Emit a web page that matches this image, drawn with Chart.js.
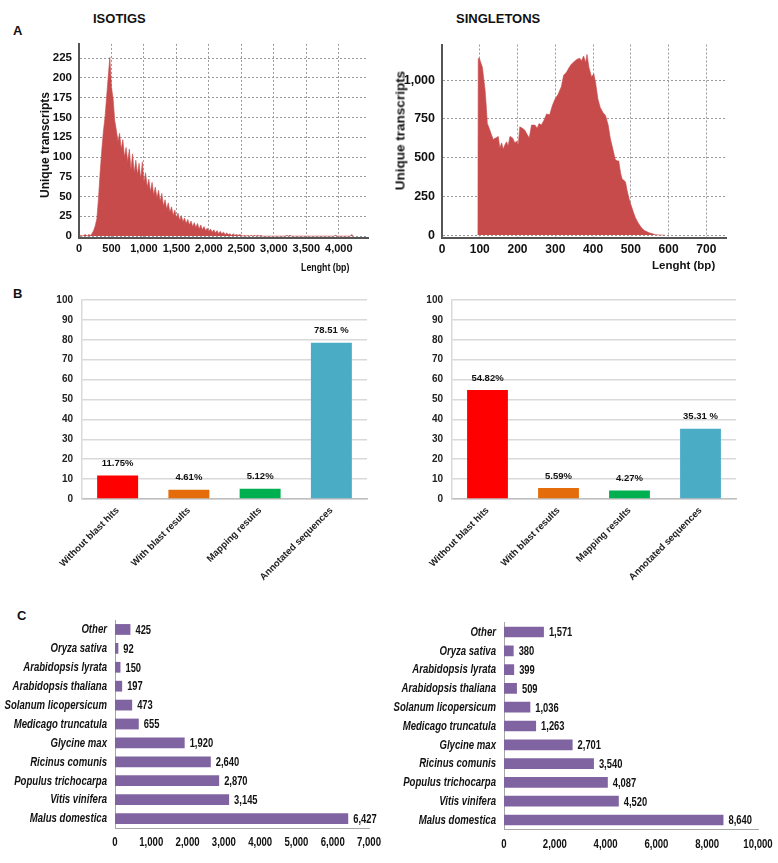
<!DOCTYPE html>
<html>
<head>
<meta charset="utf-8">
<script src="https://cdn.jsdelivr.net/npm/chart.js@4.4.0/dist/chart.umd.min.js"></script>
<style>
  body { margin: 0; background: #fff; }
  #wrap { position: relative; width: 778px; height: 863px; overflow: hidden; font-family: Arial, "Liberation Sans", sans-serif; }
  .box { position: absolute; }
  .txt { position: absolute; font-weight: bold; color: #111; white-space: nowrap; line-height: 1; }
  .narrow { transform: scaleX(0.8); transform-origin: left top; }
  .ytitle { position: absolute; text-align: center; font-weight: bold; color: #111; transform: rotate(-90deg); }
</style>
</head>
<body>
<div id="wrap">
  <div class="txt" style="left:13px;top:24px;font-size:13px">A</div>
  <div class="txt" style="left:93px;top:12px;font-size:13px">ISOTIGS</div>
  <div class="txt" style="left:456px;top:12px;font-size:13px">SINGLETONS</div>
  <div class="txt" style="left:13px;top:287px;font-size:13px">B</div>
  <div class="txt" style="left:17px;top:609px;font-size:13px">C</div>

  <div class="box" style="left:0;top:30px;width:372px;height:240px"><canvas id="isoHist"></canvas></div>
  <div class="box" style="left:360px;top:30px;width:372px;height:240px"><canvas id="sglHist"></canvas></div>
  <div class="ytitle" style="left:-25px;top:139px;width:140px;font-size:12px;line-height:12px">Unique transcripts</div>
  <div class="ytitle" style="left:320px;top:124px;width:160px;font-size:13.5px;line-height:13px">Unique transcripts</div>
  <div class="txt narrow" style="left:301px;top:262px;font-size:11px">Lenght (bp)</div>
  <div class="txt" style="left:652px;top:260px;font-size:11.5px">Lenght (bp)</div>

  <div class="box" style="left:0;top:285px;width:372px;height:300px"><canvas id="isoPct"></canvas></div>
  <div class="box" style="left:372px;top:285px;width:372px;height:300px"><canvas id="sglPct"></canvas></div>

  <div class="box" style="left:0;top:600px;width:389px;height:263px"><canvas id="isoSpecies"></canvas></div>
  <div class="box" style="left:389px;top:600px;width:389px;height:263px"><canvas id="sglSpecies"></canvas></div>
</div>

<script>
// --- A : distribution des longueurs (isotigs) ---
const isoLen = [0, 25, 50, 75, 100, 125, 150, 175, 200, 225, 250, 275, 300, 325, 350, 375, 400, 425, 450, 475,
  500, 525, 550, 575, 600, 625, 650, 675, 700, 725, 750, 775, 800, 825, 850, 875, 900, 925, 950, 975,
  1000, 1025, 1050, 1075, 1100, 1125, 1150, 1175, 1200, 1225, 1250, 1275, 1300, 1325, 1350, 1375, 1400, 1425, 1450, 1475,
  1500, 1525, 1550, 1575, 1600, 1625, 1650, 1675, 1700, 1725, 1750, 1775, 1800, 1825, 1850, 1875, 1900, 1925, 1950, 1975,
  2000, 2025, 2050, 2075, 2100, 2125, 2150, 2175, 2200, 2225, 2250, 2275, 2300, 2325, 2350, 2375, 2400, 2425, 2450, 2475,
  2500, 2525, 2550, 2575, 2600, 2625, 2650, 2675, 2700, 2725, 2750, 2775, 2800, 2825,
  3175, 3200, 3225, 3250, 3275, 3925, 3950, 3975, 4175, 4200, 4225];
const isoCount = [0, 1, 0, 1, 2, 0, 2, 1, 3, 7, 13, 22, 48, 80, 108, 132, 150, 176, 202, 226,
  188, 174, 146, 134, 120, 130, 110, 122, 100, 112, 94, 110, 84, 104, 80, 96, 78, 92, 72, 94,
  68, 80, 62, 72, 56, 68, 52, 62, 48, 58, 44, 54, 38, 46, 34, 42, 30, 37, 26, 33,
  23, 29, 20, 26, 18, 23, 16, 21, 14, 19, 12, 17, 11, 16, 9, 14, 8, 12, 7, 10,
  6, 9, 5, 8, 4, 7, 3, 6, 3, 5, 2, 4, 2, 3, 1, 3, 1, 2, 1, 2,
  1, 0, 1, 0, 1, 0, 1, 0, 1, 0, 1, 0, 1, 0,
  0, 1, 0, 1, 0, 0, 1, 0, 0, 2, 0];
const isoXTicks = [0, 500, 1000, 1500, 2000, 2500, 3000, 3500, 4000];
const isoYTicks = [0, 25, 50, 75, 100, 125, 150, 175, 200, 225];

// --- A : distribution des longueurs (singletons) ---
const sglLen = [95, 96, 99, 103, 107, 110, 114, 117, 120, 125, 131, 136, 140, 143, 149, 153, 158, 162, 167, 171,
  175, 180, 187, 193, 197, 202, 206, 213, 219, 226, 231, 237, 246, 252, 257, 263, 270, 277, 285, 292,
  299, 307, 316, 322, 330, 337, 343, 352, 358, 365, 369, 375, 380, 384, 389, 396, 402, 407, 413, 419,
  426, 433, 440, 446, 452, 459, 464, 468, 473, 477, 481, 486, 490, 495, 499, 503, 508, 512, 517, 521,
  526, 530, 536, 543, 550, 556, 565, 575, 590];
const sglCount = [0, 1140, 1141, 1110, 1083, 1020, 938, 840, 720, 689, 647, 616, 625, 627, 637, 564, 595, 554, 585, 602,
  575, 637, 627, 595, 606, 585, 699, 689, 678, 647, 627, 710, 710, 689, 720, 710, 741, 782, 776, 834,
  876, 907, 958, 1031, 1052, 1083, 1104, 1124, 1135, 1141, 1124, 1156, 1114, 1166, 1083, 1021, 1041, 979, 876, 824,
  792, 772, 710, 620, 560, 486, 480, 478, 400, 362, 355, 342, 290, 238, 205, 176, 140, 114, 90, 73,
  55, 42, 30, 21, 14, 10, 3, 1, 0];
const sglXTicks = [0, 100, 200, 300, 400, 500, 600, 700];
const sglYTicks = [0, 250, 500, 750, 1000];

// --- B : pourcentages ---
const pctCategories = ['Without blast hits', 'With blast results', 'Mapping results', 'Annotated sequences'];
const isoPct = [11.75, 4.61, 5.12, 78.51];
const isoPctText = ['11.75%', '4.61%', '5.12%', '78.51 %'];
const sglPct = [54.82, 5.59, 4.27, 35.31];
const sglPctText = ['54.82%', '5.59%', '4.27%', '35.31 %'];
const pctColors = ['#FF0000', '#E46C0A', '#00B050', '#4BACC6'];

// --- C : especes ---
const species = ['Other', 'Oryza sativa', 'Arabidopsis lyrata', 'Arabidopsis thaliana', 'Solanum licopersicum',
  'Medicago truncatula', 'Glycine max', 'Ricinus comunis', 'Populus trichocarpa', 'Vitis vinifera', 'Malus domestica'];
const isoSpecies = [425, 92, 150, 197, 473, 655, 1920, 2640, 2870, 3145, 6427];
const sglSpecies = [1571, 380, 399, 509, 1036, 1263, 2701, 3540, 4087, 4520, 8640];

Chart.defaults.font.family = "Arial, 'Liberation Sans', sans-serif";
Chart.defaults.color = '#111';
Chart.defaults.animation = false;
Chart.defaults.plugins.legend.display = false;
Chart.defaults.plugins.tooltip.enabled = false;

// pas de police "narrow" installee : on compresse le texte horizontalement
function narrowText(ctx, text, x, y, align, squeeze) {
  ctx.save();
  ctx.translate(x, y);
  ctx.scale(squeeze, 1);
  ctx.textAlign = align;
  ctx.fillText(text, 0, 0);
  ctx.restore();
}

// etiquettes de valeur au-dessus des barres (B)
const topLabels = {
  id: 'topLabels',
  afterDatasetsDraw(chart, args, opts) {
    const ctx = chart.ctx;
    ctx.save();
    ctx.font = "bold 9.5px Arial, 'Liberation Sans', sans-serif";
    ctx.fillStyle = '#111';
    ctx.textAlign = 'center';
    ctx.textBaseline = 'middle';
    chart.getDatasetMeta(0).data.forEach((bar, i) => {
      ctx.fillText(opts.texts[i], bar.x, bar.y - 12);
    });
    ctx.restore();
  }
};

// textes du panneau C (categories, graduations, valeurs) en style etroit
const speciesText = {
  id: 'speciesText',
  afterDraw(chart) {
    const ctx = chart.ctx;
    const xs = chart.scales.x, ys = chart.scales.y;
    ctx.save();
    ctx.fillStyle = '#111';
    ctx.textBaseline = 'middle';
    ctx.font = "italic bold 12px Arial, 'Liberation Sans', sans-serif";
    species.forEach((name, i) => {
      narrowText(ctx, name, ys.right - 8, ys.getPixelForTick(i) + 0.5, 'right', 0.8);
    });
    ctx.font = "bold 12px Arial, 'Liberation Sans', sans-serif";
    xs.ticks.forEach(t => {
      narrowText(ctx, t.value.toLocaleString('en-US'), xs.getPixelForValue(t.value), xs.top + 15, 'center', 0.8);
    });
    chart.getDatasetMeta(0).data.forEach((bar, i) => {
      const v = chart.data.datasets[0].data[i];
      narrowText(ctx, v.toLocaleString('en-US'), bar.x + 5, bar.y + 1, 'left', 0.78);
    });
    ctx.restore();
  }
};

function histChart(id, xs, ys, xTicks, yTicks, xMax, yMin, yMax, yWidth, padRight, fontSize) {
  return new Chart(document.getElementById(id), {
    type: 'line',
    data: {
      datasets: [{
        data: xs.map((x, i) => ({ x: x, y: ys[i] })),
        fill: 'origin',
        backgroundColor: '#C84B4B',
        borderColor: 'rgba(200,75,75,0.6)',
        borderWidth: 1,
        pointRadius: 0,
        tension: 0
      }]
    },
    options: {
      responsive: true,
      maintainAspectRatio: false,
      layout: { padding: { top: 6, right: padRight, left: 0, bottom: 0 } },
      scales: {
        x: {
          type: 'linear', min: 0, max: xMax,
          afterBuildTicks: s => { s.ticks = xTicks.map(v => ({ value: v })); },
          afterFit: s => { s.height = 32; },
          grid: { color: '#9a9a9a', lineWidth: 1, drawTicks: false },
          border: { display: true, color: '#555', width: 2, dash: [2, 2] },
          ticks: { autoSkip: false, maxRotation: 0, padding: 4, color: '#111', font: { size: fontSize, weight: 'bold' } }
        },
        y: {
          min: yMin, max: yMax,
          afterBuildTicks: s => { s.ticks = yTicks.map(v => ({ value: v })); },
          afterFit: s => { s.width = yWidth; },
          grid: { color: '#9a9a9a', lineWidth: 1, drawTicks: false },
          border: { display: true, color: '#555', width: 2, dash: [2, 2] },
          ticks: { padding: 7, color: '#111', font: { size: fontSize + 0.5, weight: 'bold' } }
        }
      }
    }
  });
}

function pctChart(id, values, texts, yWidth, padRight) {
  return new Chart(document.getElementById(id), {
    type: 'bar',
    data: {
      labels: pctCategories,
      datasets: [{ data: values, backgroundColor: pctColors, barPercentage: 0.575, categoryPercentage: 1 }]
    },
    plugins: [topLabels],
    options: {
      responsive: true,
      maintainAspectRatio: false,
      layout: { padding: { top: 11, right: padRight, left: 0, bottom: 0 } },
      plugins: { topLabels: { texts: texts } },
      scales: {
        x: {
          afterFit: s => { s.height = 86; },
          grid: { display: false, drawTicks: false },
          border: { display: true, color: '#BFBFBF', width: 1.5 },
          ticks: { autoSkip: false, minRotation: 45, maxRotation: 45, padding: 6, color: '#222', font: { size: 9.5, weight: 'bold' } }
        },
        y: {
          min: 0, max: 100,
          ticks: { stepSize: 10, padding: 9, color: '#222', font: { size: 10, weight: 'bold' } },
          afterFit: s => { s.width = yWidth; },
          grid: { color: '#D9D9D9', lineWidth: 1.5, drawTicks: false },
          border: { display: true, color: '#D9D9D9', width: 1.5 }
        }
      }
    }
  });
}

function speciesChart(id, values, xMax, xStep, padTop, xHeight) {
  return new Chart(document.getElementById(id), {
    type: 'bar',
    data: {
      labels: species,
      datasets: [{ data: values, backgroundColor: '#8064A2', barPercentage: 0.57, categoryPercentage: 1 }]
    },
    plugins: [speciesText],
    options: {
      indexAxis: 'y',
      responsive: true,
      maintainAspectRatio: false,
      layout: { padding: { top: padTop, right: 20, left: 0, bottom: 0 } },
      scales: {
        x: {
          min: 0, max: xMax,
          ticks: { stepSize: xStep, display: false },
          afterFit: s => { s.height = xHeight; },
          grid: { display: false, drawTicks: false },
          border: { display: true, color: '#A6A6A6', width: 1 }
        },
        y: {
          afterFit: s => { s.width = 115; },
          grid: { display: false, drawTicks: false },
          border: { display: true, color: '#A6A6A6', width: 1 },
          ticks: { display: false }
        }
      }
    }
  });
}

histChart('isoHist', isoLen, isoCount, isoXTicks, isoYTicks, 4450, -2.4, 243, 79, 4, 11);
histChart('sglHist', sglLen, sglCount, sglXTicks, sglYTicks, 752, -18.6, 1230, 82, 6, 12);
pctChart('isoPct', isoPct, isoPctText, 82, 5);
pctChart('sglPct', sglPct, sglPctText, 80, 8);
speciesChart('isoSpecies', isoSpecies, 7000, 1000, 20, 35);
speciesChart('sglSpecies', sglSpecies, 10000, 2000, 22.6, 33.6);
</script>
</body>
</html>
